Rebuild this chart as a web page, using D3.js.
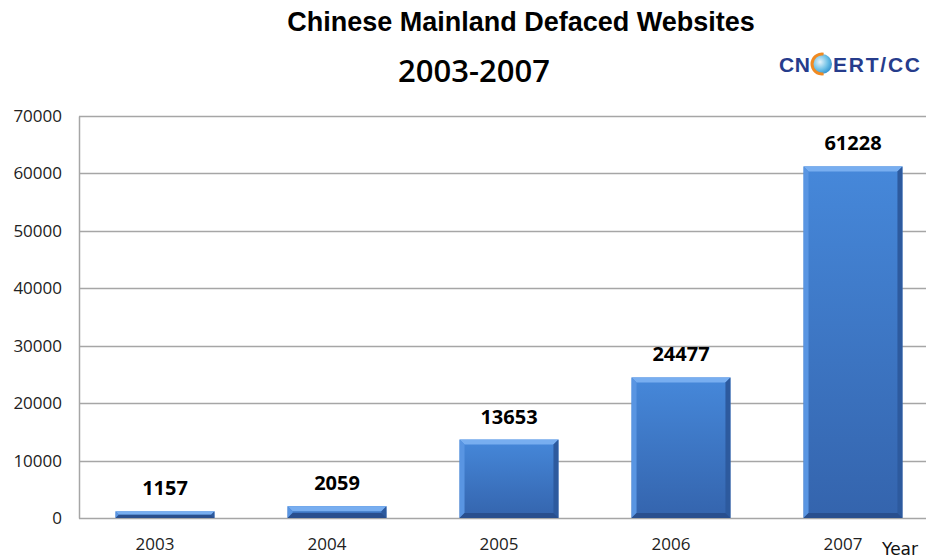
<!DOCTYPE html>
<html>
<head>
<meta charset="utf-8">
<script src="https://cdn.jsdelivr.net/npm/d3@7"></script>
<style>
  html, body { margin: 0; padding: 0; background: #fff; }
  svg { display: block; }
</style>
</head>
<body>
<svg id="chart" width="926" height="559"></svg>
<script>
// Defaced websites in mainland China, per year
const years = ["2003", "2004", "2005", "2006", "2007"];
const defaced = [1157, 2059, 13653, 24477, 61228];
const yTicks = [0, 10000, 20000, 30000, 40000, 50000, 60000, 70000];

const svg = d3.select("#chart");
const W = 926, H = 559;
const plot = { left: 79, right: 939, top: 116, bottom: 518 };

const x = d3.scaleBand().domain(years)
  .range([plot.left, plot.right]).paddingInner(0.425).paddingOuter(0.2125);
const y = d3.scaleLinear().domain([0, 70000]).range([plot.bottom, plot.top]);

// Titles
svg.append("text").attr("x", 521).attr("y", 31).attr("text-anchor", "middle")
  .attr("font-family", "Liberation Sans, Arial, sans-serif").attr("font-weight", "bold")
  .attr("font-size", 27).attr("fill", "#000").text("Chinese Mainland Defaced Websites");
svg.append("text").attr("x", 474).attr("y", 82).attr("text-anchor", "middle")
  .attr("font-family", "Open Sans, sans-serif").attr("font-size", 31).attr("font-weight", 600)
  .attr("fill", "#000").text("2003-2007");

// CNCERT/CC logo
const logo = svg.append("g");
const defs = svg.append("defs");
const globe = defs.append("radialGradient").attr("id", "globe").attr("cx", "40%").attr("cy", "40%").attr("r", "65%");
globe.append("stop").attr("offset", "0%").attr("stop-color", "#e6f4fb");
globe.append("stop").attr("offset", "60%").attr("stop-color", "#6cc0e6");
globe.append("stop").attr("offset", "100%").attr("stop-color", "#2f8fcf");
logo.append("text").attr("x", 779).attr("y", 72)
  .attr("font-family", "Liberation Sans, Arial, sans-serif").attr("font-weight", "bold")
  .attr("font-size", 21).attr("fill", "#263c8c").attr("textLength", 31).text("CN");
logo.append("circle").attr("cx", 822).attr("cy", 64).attr("r", 10).attr("fill", "url(#globe)");
logo.append("path").attr("d", d3.arc()({ innerRadius: 8.5, outerRadius: 11.5, startAngle: Math.PI * 0.95, endAngle: Math.PI * 2.05 }))
  .attr("transform", "translate(822,64)").attr("fill", "#f08a22");
logo.append("text").attr("x", 833).attr("y", 72)
  .attr("font-family", "Liberation Sans, Arial, sans-serif").attr("font-weight", "bold")
  .attr("font-size", 21).attr("fill", "#263c8c").attr("textLength", 87).text("ERT/CC");

// Gridlines
svg.append("g").selectAll("line").data(yTicks).join("line")
  .attr("x1", plot.left).attr("x2", W)
  .attr("y1", d => Math.round(y(d)) + 0.5).attr("y2", d => Math.round(y(d)) + 0.5)
  .attr("stroke", "#a6a6a6").attr("stroke-width", 1.5);

// Y axis
const yAxis = svg.append("g").attr("transform", `translate(${plot.left},0)`)
  .call(d3.axisLeft(y).tickValues(yTicks).tickSize(0).tickPadding(17).tickFormat(d3.format("d")));
yAxis.select(".domain").attr("stroke", "#a6a6a6").attr("stroke-width", 1.5);
yAxis.selectAll("text").attr("font-family", "Open Sans, sans-serif").attr("font-size", 17).attr("fill", "#222");

// X axis labels
const xAxis = svg.append("g").attr("transform", `translate(-10,${plot.bottom})`)
  .call(d3.axisBottom(x).tickSize(0).tickPadding(20));
xAxis.select(".domain").remove();
xAxis.selectAll("text").attr("font-family", "Open Sans, sans-serif").attr("font-size", 17).attr("fill", "#222");
svg.append("text").attr("x", 882).attr("y", 555)
  .attr("font-family", "DejaVu Sans, sans-serif").attr("font-size", 17).attr("fill", "#111").text("Year");

// Bevelled bars
const face = defs.append("linearGradient").attr("id", "face").attr("x1", 0).attr("y1", 0).attr("x2", 0).attr("y2", 1);
face.append("stop").attr("offset", "0%").attr("stop-color", "#4688da");
face.append("stop").attr("offset", "100%").attr("stop-color", "#3464ad");

const bw = x.bandwidth();
const bv = 5;
const bars = svg.append("g").selectAll("g").data(years.map((yr, i) => ({ yr, v: defaced[i] }))).join("g");
bars.each(function (d) {
  const g = d3.select(this);
  const x0 = x(d.yr), x1 = x0 + bw, y0 = y(d.v), y1 = y(0);
  const b = Math.min(bv, (y1 - y0) / 2);
  g.append("rect").attr("x", x0).attr("y", y0).attr("width", bw).attr("height", y1 - y0).attr("fill", "url(#face)");
  const poly = (pts, c) => g.append("polygon").attr("points", pts.map(p => p.join(",")).join(" ")).attr("fill", c);
  poly([[x0, y0], [x1, y0], [x1 - b, y0 + b], [x0 + b, y0 + b]], "#78aef0");
  poly([[x0, y0], [x0 + b, y0 + b], [x0 + b, y1 - b], [x0, y1]], "#5995e2");
  poly([[x1, y0], [x1, y1], [x1 - b, y1 - b], [x1 - b, y0 + b]], "#2d5a9e");
  poly([[x0, y1], [x1, y1], [x1 - b, y1 - b], [x0 + b, y1 - b]], "#294f8e");
  g.append("text").attr("x", x0 + bw / 2).attr("y", y0 - 16).attr("text-anchor", "middle")
    .attr("font-family", "Open Sans, sans-serif").attr("font-weight", "bold").attr("font-size", 20)
    .attr("fill", "#000").text(d.v);
});
</script>
</body>
</html>
